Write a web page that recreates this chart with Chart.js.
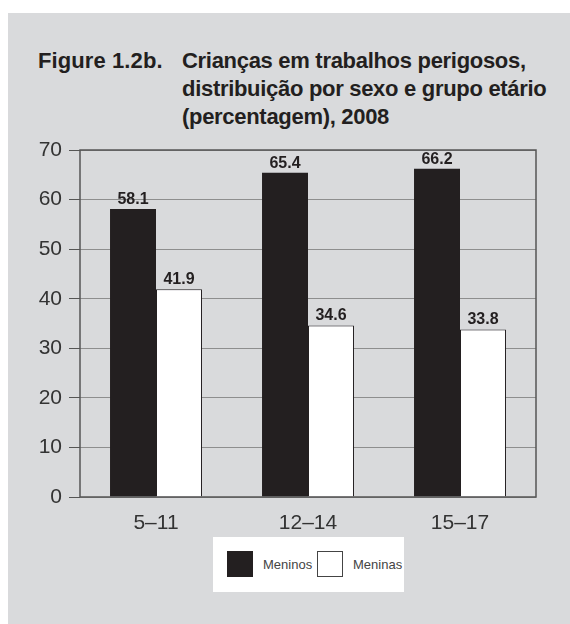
<!DOCTYPE html>
<html>
<head>
<meta charset="utf-8">
<script src="https://cdn.jsdelivr.net/npm/chart.js@4/dist/chart.umd.min.js"></script>
<style>
  html, body { margin: 0; padding: 0; background: #fff; }
  body { width: 570px; height: 624px; position: relative; overflow: hidden; font-family: "Liberation Sans", Arial, sans-serif; }
  #panel { position: absolute; left: 8px; top: 13px; width: 562px; height: 611px; background: #d9dadc; }
  #title { position: absolute; left: 38px; top: 47px; font-weight: bold; font-size: 22px; line-height: 28px; color: #231f20; }
  #title .num { position: absolute; left: 0; top: 0; white-space: nowrap; letter-spacing: 0.1px; }
  #title .txt { position: absolute; left: 144px; top: 0; white-space: nowrap; letter-spacing: -0.3px; }
  #wrap { position: absolute; left: 0; top: 130px; width: 570px; height: 400px; }
  #legend { position: absolute; left: 213px; top: 537px; width: 191px; height: 55px; background: #fff; }
  #legend .item { position: absolute; top: 14px; height: 26px; display: flex; align-items: center; font-size: 13px; color: #444; }
  #legend .sw { width: 26px; height: 26px; box-sizing: border-box; margin-right: 10px; }
</style>
</head>
<body>
<div id="panel"></div>
<div id="title">
  <div class="num">Figure 1.2b.</div>
  <div class="txt">Crianças em trabalhos perigosos,<br>distribuição por sexo e grupo etário<br>(percentagem), 2008</div>
</div>
<div id="wrap"><canvas id="chart" width="570" height="400"></canvas></div>
<div id="legend"></div>
<script>
const ageGroups = ['5–11', '12–14', '15–17'];
const seriesNames = ['Meninos', 'Meninas'];
const boys = [58.1, 65.4, 66.2];
const girls = [41.9, 34.6, 33.8];
const yTicks = [0, 10, 20, 30, 40, 50, 60, 70];

const ink = '#231f20';

// value labels above each bar
const valueLabels = {
  id: 'valueLabels',
  afterDatasetsDraw(chart) {
    const ctx = chart.ctx;
    ctx.save();
    ctx.font = 'bold 16px "Liberation Sans", Arial, sans-serif';
    ctx.fillStyle = ink;
    ctx.textAlign = 'center';
    ctx.textBaseline = 'alphabetic';
    chart.data.datasets.forEach((ds, i) => {
      chart.getDatasetMeta(i).data.forEach((bar, j) => {
        ctx.fillText(ds.data[j].toFixed(1), bar.x, bar.y - 5);
      });
    });
    ctx.restore();
  }
};

// frame around the plot area
const frame = {
  id: 'frame',
  afterDatasetsDraw(chart) {
    const a = chart.chartArea;
    const ctx = chart.ctx;
    ctx.save();
    ctx.strokeStyle = '#555';
    ctx.lineWidth = 1.5;
    ctx.strokeRect(a.left, a.top, a.right - a.left, a.bottom - a.top);
    ctx.restore();
  }
};

new Chart(document.getElementById('chart').getContext('2d'), {
  type: 'bar',
  data: {
    labels: ageGroups,
    datasets: [
      { label: seriesNames[0], data: boys, backgroundColor: ink, borderColor: ink, borderWidth: 0 },
      { label: seriesNames[1], data: girls, backgroundColor: '#ffffff', borderColor: ink, borderWidth: 1 }
    ]
  },
  options: {
    responsive: false,
    animation: false,
    devicePixelRatio: 1,
    categoryPercentage: 0.605,
    barPercentage: 1,
    layout: { padding: { left: 0, right: 34, top: 20, bottom: 0 } },
    plugins: { legend: { display: false }, tooltip: { enabled: false } },
    scales: {
      x: {
        grid: { display: false },
        border: { display: false },
        ticks: { color: '#333', padding: 6, font: { family: '"Liberation Sans", Arial, sans-serif', size: 21 } },
        afterFit(s) { s.height = 33; }
      },
      y: {
        min: 0,
        max: 70,
        afterBuildTicks(s) { s.ticks = yTicks.map(v => ({ value: v })); },
        grid: { color: '#8e8e8e', lineWidth: 1, tickLength: 11, tickColor: '#555' },
        border: { display: false },
        ticks: { color: '#333', padding: 7, font: { family: '"Liberation Sans", Arial, sans-serif', size: 21 } },
        afterFit(s) { s.width = 80; }
      }
    }
  },
  plugins: [valueLabels, frame]
});

// legend
const legend = document.getElementById('legend');
const swatches = [
  { left: 14, style: 'background:' + ink },
  { left: 104, style: 'background:#fff;border:1px solid #444' }
];
seriesNames.forEach((name, i) => {
  const item = document.createElement('div');
  item.className = 'item';
  item.style.left = swatches[i].left + 'px';
  item.innerHTML = '<div class="sw" style="' + swatches[i].style + '"></div><span>' + name + '</span>';
  legend.appendChild(item);
});
</script>
</body>
</html>
